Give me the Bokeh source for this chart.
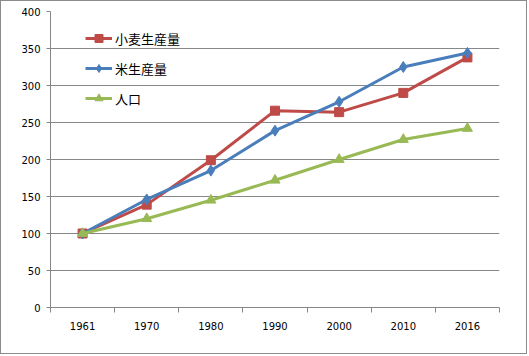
from bokeh.plotting import figure
from bokeh.models import Range1d, FixedTicker, Legend, LegendItem
from bokeh.embed import file_html
from bokeh.resources import INLINE

years = ["1961", "1970", "1980", "1990", "2000", "2010", "2016"]
wheat = [100, 139, 199, 266, 264, 290, 338]
rice = [100, 146, 185, 239, 278, 325, 344]
population = [100, 120, 145, 172, 200, 227, 242]
y_ticks = [0, 50, 100, 150, 200, 250, 300, 350, 400]
names = ["小麦生産量", "米生産量", "人口"]

xs = list(range(len(years)))

p = figure(width=527, height=354, output_backend="svg", toolbar_location=None,
           x_range=Range1d(-0.5, len(years) - 0.5), y_range=Range1d(0, 400),
           min_border_left=49, min_border_right=29, min_border_top=10, min_border_bottom=48)
p.styles = {"border": "1px solid #8c8c8c"}
p.outline_line_color = None
p.background_fill_color = "white"
p.border_fill_color = "white"

grid_col = "#878787"
p.xgrid.grid_line_color = None
p.ygrid.grid_line_color = grid_col
p.ygrid.grid_line_width = 1

p.yaxis.ticker = FixedTicker(ticks=y_ticks)
p.yaxis.axis_line_color = grid_col
p.yaxis.major_tick_line_color = grid_col
p.yaxis.major_tick_out = 4
p.yaxis.major_tick_in = 0
p.yaxis.minor_tick_line_color = None
p.yaxis.major_label_standoff = 6
p.yaxis.major_label_text_font = "DejaVu Sans"
p.yaxis.major_label_text_font_size = "10px"
p.yaxis.major_label_text_color = "black"

p.xaxis.ticker = FixedTicker(ticks=xs, minor_ticks=[i - 0.5 for i in range(len(years) + 1)])
p.xaxis.major_label_overrides = {i: y for i, y in enumerate(years)}
p.xaxis.axis_line_color = grid_col
p.xaxis.major_tick_out = 0
p.xaxis.major_tick_in = 0
p.xaxis.major_tick_line_color = None
p.xaxis.minor_tick_line_color = grid_col
p.xaxis.minor_tick_out = 5
p.xaxis.minor_tick_in = 0
p.xaxis.major_label_standoff = 9
p.xaxis.major_label_text_font = "DejaVu Sans"
p.xaxis.major_label_text_font_size = "10px"
p.xaxis.major_label_text_color = "black"

series = [
    (wheat, "#BE4B48", "square", 9),
    (rice, "#4A7EBB", "diamond", 11),
    (population, "#98B954", "triangle", 10),
]
items = []
for (vals, col, mk, sz), name in zip(series, names):
    r1 = p.line(xs, vals, line_color=col, line_width=3)
    r2 = p.scatter(xs, vals, marker=mk, size=sz, fill_color=col, line_color=col)
    items.append(LegendItem(label=name, renderers=[r1, r2]))

legend = Legend(items=items, location=(35, 199))
legend.background_fill_alpha = 0
legend.border_line_color = None
legend.padding = 5
legend.margin = 0
legend.spacing = 10
legend.glyph_width = 27
legend.glyph_height = 20
legend.label_height = 20
legend.label_standoff = 3
legend.label_text_font = "Noto Sans CJK JP"
legend.label_text_font_size = "13px"
legend.label_text_color = "black"
p.add_layout(legend, "center")

open("out.html", "w").write(file_html(p, INLINE))
